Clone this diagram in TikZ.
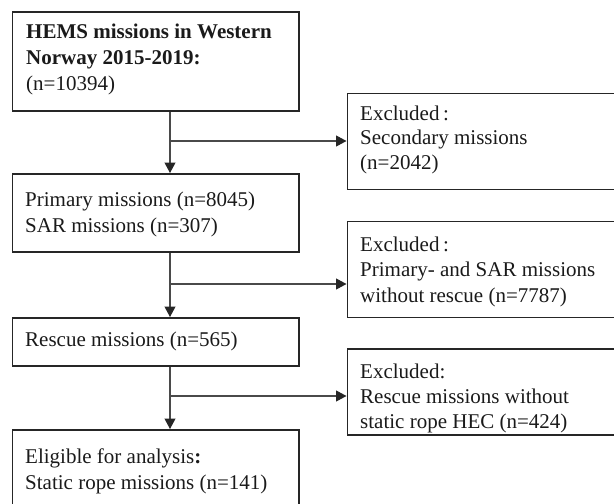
\documentclass[tikz,border=0pt]{standalone}
\usepackage{fontspec}
\setmainfont{Liberation Serif}
\usetikzlibrary{arrows.meta}
\definecolor{boxline}{HTML}{262626}
\definecolor{conline}{HTML}{4A4A4A}
\definecolor{txtcol}{HTML}{1A1A1A}
\tikzset{
  box/.style={draw=boxline, line width=1.9pt, rectangle, inner sep=0pt, anchor=north west},
  txt/.style={anchor=base west, inner sep=0pt, text=txtcol, font=\fontsize{21}{26}\selectfont},
  con/.style={draw=conline, line width=1.1pt},
  arr/.style={con, -{Triangle[width=11pt,length=10.5pt,color=boxline]}}
}
\begin{document}
\begin{tikzpicture}[x=1pt,y=-1pt]
\useasboundingbox (0,0) rectangle (614,504);
\clip (0,0) rectangle (614,504);
% boxes
\node[box, minimum width=286.5pt, minimum height=99pt] (b1) at (11.5,11) {};
\node[box, minimum width=286.5pt, minimum height=78pt] (b2) at (11.5,173) {};
\node[box, minimum width=286.5pt, minimum height=48pt] (b5) at (11.5,317) {};
\node[box, minimum width=286.5pt, minimum height=90pt] (b7) at (11.5,429) {};
\node[box, minimum width=290pt, minimum height=96pt] (b3) at (346.5,92.5) {};
\node[box, minimum width=290pt, minimum height=96pt] (b4) at (346.5,220.5) {};
\node[box, minimum width=290pt, minimum height=86pt] (b6) at (346.5,348) {};
% texts
\node[txt] (t1a) at (26,38.5) {\textbf{HEMS missions in Western}};
\node[txt] (t1b) at (26,64.5) {\textbf{Norway 2015-2019:}};
\node[txt] (t1c) at (26,90.5) {(n=10394)};
\node[txt] (t2a) at (25,206) {Primary missions (n=8045)};
\node[txt] (t2b) at (25,232) {SAR missions (n=307)};
\node[txt] (t3a) at (360,120) {Excluded\,:};
\node[txt] (t3b) at (360,144.5) {Secondary missions};
\node[txt] (t3c) at (360,169) {(n=2042)};
\node[txt] (t4a) at (360,251.7) {Excluded\,:};
\node[txt] (t4b) at (360,276.7) {Primary- and SAR missions};
\node[txt] (t4c) at (360,302) {without rescue (n=7787)};
\node[txt] (t5a) at (25,346.5) {Rescue missions (n=565)};
\node[txt] (t6a) at (360,378) {Excluded:};
\node[txt] (t6b) at (360,403) {Rescue missions without};
\node[txt] (t6c) at (360,428) {static rope HEC (n=424)};
\node[txt] (t7a) at (25,463) {Eligible for analysis\textbf{:}};
\node[txt] (t7b) at (25,489) {Static rope missions (n=141)};
% branch points
\coordinate (j1) at (170,141);
\coordinate (j2) at (170,284);
\coordinate (j3) at (170,396);
% connectors
\draw[arr] (b1.south -| j1) -- (b2.north -| j1);
\draw[arr] (b2.south -| j2) -- (b5.north -| j2);
\draw[arr] (b5.south -| j3) -- (b7.north -| j3);
\draw[arr] (j1) -- (b3.west |- j1);
\draw[arr] (j2) -- (b4.west |- j2);
\draw[arr] (j3) -- (b6.west |- j3);
\end{tikzpicture}
\end{document}
